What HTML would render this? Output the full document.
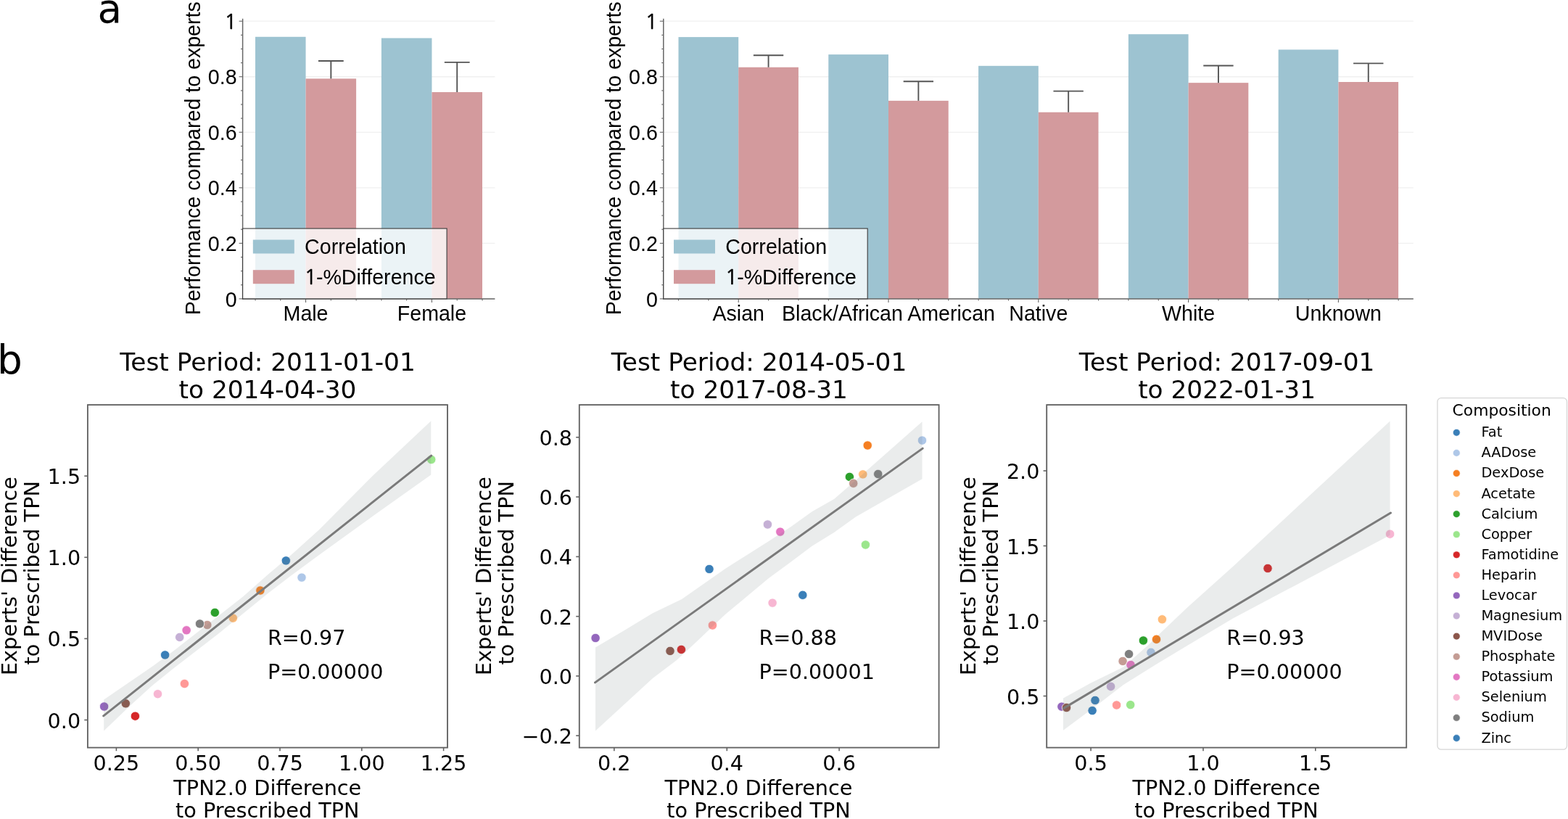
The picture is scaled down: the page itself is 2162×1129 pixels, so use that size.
<!DOCTYPE html>
<html><head><meta charset="utf-8"><title>Figure</title>
<style>
html,body{margin:0;padding:0;background:#ffffff;}
body{width:2162px;height:1129px;overflow:hidden;}
svg{display:block;}
text{fill:#000000;}
</style></head>
<body>
<svg width="2162" height="1129" viewBox="0 0 2162 1129">
<rect x="0" y="0" width="2162" height="1129" fill="#ffffff"/>
<line x1="334.6" y1="411.9" x2="682.4" y2="411.9" stroke="#f0f0f0" stroke-width="1.3" />
<line x1="334.6" y1="335.36" x2="682.4" y2="335.36" stroke="#f0f0f0" stroke-width="1.3" />
<line x1="334.6" y1="258.82" x2="682.4" y2="258.82" stroke="#f0f0f0" stroke-width="1.3" />
<line x1="334.6" y1="182.28" x2="682.4" y2="182.28" stroke="#f0f0f0" stroke-width="1.3" />
<line x1="334.6" y1="105.74" x2="682.4" y2="105.74" stroke="#f0f0f0" stroke-width="1.3" />
<line x1="334.6" y1="29.2" x2="682.4" y2="29.2" stroke="#f0f0f0" stroke-width="1.3" />
<rect x="351.99" y="50.78" width="69.56" height="361.12" fill="#9dc3d1" />
<rect x="421.55" y="108.42" width="69.56" height="303.48" fill="#d39a9d" />
<rect x="525.89" y="52.54" width="69.56" height="359.36" fill="#9dc3d1" />
<rect x="595.45" y="127.02" width="69.56" height="284.88" fill="#d39a9d" />
<line x1="456.33" y1="108.42" x2="456.33" y2="83.93" stroke="#555555" stroke-width="1.9" />
<line x1="438.94" y1="83.93" x2="473.72" y2="83.93" stroke="#555555" stroke-width="1.9" />
<line x1="630.23" y1="127.02" x2="630.23" y2="85.84" stroke="#555555" stroke-width="1.9" />
<line x1="612.84" y1="85.84" x2="647.62" y2="85.84" stroke="#555555" stroke-width="1.9" />
<line x1="334.6" y1="412.6" x2="334.6" y2="25.7" stroke="#666666" stroke-width="1.5" />
<line x1="333.9" y1="411.9" x2="682.4" y2="411.9" stroke="#666666" stroke-width="1.5" />
<line x1="329.6" y1="411.9" x2="334.6" y2="411.9" stroke="#666666" stroke-width="1.1" />
<line x1="332" y1="392.76" x2="334.6" y2="392.76" stroke="#666666" stroke-width="1.1" />
<line x1="332" y1="373.63" x2="334.6" y2="373.63" stroke="#666666" stroke-width="1.1" />
<line x1="332" y1="354.49" x2="334.6" y2="354.49" stroke="#666666" stroke-width="1.1" />
<line x1="329.6" y1="335.36" x2="334.6" y2="335.36" stroke="#666666" stroke-width="1.1" />
<line x1="332" y1="316.22" x2="334.6" y2="316.22" stroke="#666666" stroke-width="1.1" />
<line x1="332" y1="297.09" x2="334.6" y2="297.09" stroke="#666666" stroke-width="1.1" />
<line x1="332" y1="277.95" x2="334.6" y2="277.95" stroke="#666666" stroke-width="1.1" />
<line x1="329.6" y1="258.82" x2="334.6" y2="258.82" stroke="#666666" stroke-width="1.1" />
<line x1="332" y1="239.68" x2="334.6" y2="239.68" stroke="#666666" stroke-width="1.1" />
<line x1="332" y1="220.55" x2="334.6" y2="220.55" stroke="#666666" stroke-width="1.1" />
<line x1="332" y1="201.41" x2="334.6" y2="201.41" stroke="#666666" stroke-width="1.1" />
<line x1="329.6" y1="182.28" x2="334.6" y2="182.28" stroke="#666666" stroke-width="1.1" />
<line x1="332" y1="163.14" x2="334.6" y2="163.14" stroke="#666666" stroke-width="1.1" />
<line x1="332" y1="144.01" x2="334.6" y2="144.01" stroke="#666666" stroke-width="1.1" />
<line x1="332" y1="124.88" x2="334.6" y2="124.88" stroke="#666666" stroke-width="1.1" />
<line x1="329.6" y1="105.74" x2="334.6" y2="105.74" stroke="#666666" stroke-width="1.1" />
<line x1="332" y1="86.6" x2="334.6" y2="86.6" stroke="#666666" stroke-width="1.1" />
<line x1="332" y1="67.47" x2="334.6" y2="67.47" stroke="#666666" stroke-width="1.1" />
<line x1="332" y1="48.33" x2="334.6" y2="48.33" stroke="#666666" stroke-width="1.1" />
<line x1="329.6" y1="29.2" x2="334.6" y2="29.2" stroke="#666666" stroke-width="1.1" />
<text transform="translate(326.6,422.5) scale(1,1.03)" font-size="28.6" font-family='"Liberation Sans", Arial, sans-serif' text-anchor="end" >0</text>
<text transform="translate(326.6,345.96) scale(1,1.03)" font-size="28.6" font-family='"Liberation Sans", Arial, sans-serif' text-anchor="end" >0.2</text>
<text transform="translate(326.6,269.42) scale(1,1.03)" font-size="28.6" font-family='"Liberation Sans", Arial, sans-serif' text-anchor="end" >0.4</text>
<text transform="translate(326.6,192.88) scale(1,1.03)" font-size="28.6" font-family='"Liberation Sans", Arial, sans-serif' text-anchor="end" >0.6</text>
<text transform="translate(326.6,116.34) scale(1,1.03)" font-size="28.6" font-family='"Liberation Sans", Arial, sans-serif' text-anchor="end" >0.8</text>
<text transform="translate(326.6,39.8) scale(1,1.03)" font-size="28.6" font-family='"Liberation Sans", Arial, sans-serif' text-anchor="end" ><tspan font-family='NanumGothic, "Liberation Sans", sans-serif' stroke="#000" stroke-width="0.6">1</tspan></text>
<line x1="351.99" y1="411.9" x2="351.99" y2="414.5" stroke="#666666" stroke-width="1.1" />
<line x1="386.77" y1="411.9" x2="386.77" y2="414.5" stroke="#666666" stroke-width="1.1" />
<line x1="421.55" y1="411.9" x2="421.55" y2="416.9" stroke="#666666" stroke-width="1.1" />
<line x1="456.33" y1="411.9" x2="456.33" y2="414.5" stroke="#666666" stroke-width="1.1" />
<line x1="491.11" y1="411.9" x2="491.11" y2="414.5" stroke="#666666" stroke-width="1.1" />
<line x1="525.89" y1="411.9" x2="525.89" y2="414.5" stroke="#666666" stroke-width="1.1" />
<line x1="560.67" y1="411.9" x2="560.67" y2="414.5" stroke="#666666" stroke-width="1.1" />
<line x1="595.45" y1="411.9" x2="595.45" y2="416.9" stroke="#666666" stroke-width="1.1" />
<line x1="630.23" y1="411.9" x2="630.23" y2="414.5" stroke="#666666" stroke-width="1.1" />
<line x1="665.01" y1="411.9" x2="665.01" y2="414.5" stroke="#666666" stroke-width="1.1" />
<text transform="translate(421.55,441.5) scale(1,1.03)" font-size="28.6" font-family='"Liberation Sans", Arial, sans-serif' text-anchor="middle" >Male</text>
<text transform="translate(595.45,441.5) scale(1,1.03)" font-size="28.6" font-family='"Liberation Sans", Arial, sans-serif' text-anchor="middle" >Female</text>
<text transform="translate(276.2,218.3) rotate(-90) scale(1,1.03)" font-size="28.6" font-family='"Liberation Sans", Arial, sans-serif' text-anchor="middle">Performance compared to experts</text>
<rect x="334.6" y="315" width="281.5" height="96.9" fill="#ffffff" fill-opacity="0.8" stroke="#3a3a3a" stroke-width="1.1"/>
<rect x="348.8" y="330.5" width="57" height="19" fill="#9dc3d1" />
<rect x="348.8" y="372.2" width="57" height="19" fill="#d39a9d" />
<text transform="translate(420.1,349.9) scale(1,1.03)" font-size="28.6" font-family='"Liberation Sans", Arial, sans-serif' text-anchor="start" >Correlation</text>
<text transform="translate(419.6,391.8) scale(1,1.03)" font-size="28.6" font-family='"Liberation Sans", Arial, sans-serif' text-anchor="start" ><tspan font-family='NanumGothic, "Liberation Sans", sans-serif' stroke="#000" stroke-width="0.6">1</tspan><tspan dx="-1.0">-%Difference</tspan></text>
<line x1="914.8" y1="411.9" x2="1948.8" y2="411.9" stroke="#f0f0f0" stroke-width="1.3" />
<line x1="914.8" y1="335.36" x2="1948.8" y2="335.36" stroke="#f0f0f0" stroke-width="1.3" />
<line x1="914.8" y1="258.82" x2="1948.8" y2="258.82" stroke="#f0f0f0" stroke-width="1.3" />
<line x1="914.8" y1="182.28" x2="1948.8" y2="182.28" stroke="#f0f0f0" stroke-width="1.3" />
<line x1="914.8" y1="105.74" x2="1948.8" y2="105.74" stroke="#f0f0f0" stroke-width="1.3" />
<line x1="914.8" y1="29.2" x2="1948.8" y2="29.2" stroke="#f0f0f0" stroke-width="1.3" />
<rect x="935.48" y="51.09" width="82.72" height="360.81" fill="#9dc3d1" />
<rect x="1018.2" y="92.73" width="82.72" height="319.17" fill="#d39a9d" />
<rect x="1142.28" y="75.12" width="82.72" height="336.78" fill="#9dc3d1" />
<rect x="1225" y="138.88" width="82.72" height="273.02" fill="#d39a9d" />
<rect x="1349.08" y="90.81" width="82.72" height="321.09" fill="#9dc3d1" />
<rect x="1431.8" y="154.73" width="82.72" height="257.17" fill="#d39a9d" />
<rect x="1555.88" y="47.19" width="82.72" height="364.71" fill="#9dc3d1" />
<rect x="1638.6" y="114.16" width="82.72" height="297.74" fill="#d39a9d" />
<rect x="1762.68" y="68.43" width="82.72" height="343.47" fill="#9dc3d1" />
<rect x="1845.4" y="113.01" width="82.72" height="298.89" fill="#d39a9d" />
<line x1="1059.56" y1="92.73" x2="1059.56" y2="76.27" stroke="#555555" stroke-width="1.9" />
<line x1="1038.88" y1="76.27" x2="1080.24" y2="76.27" stroke="#555555" stroke-width="1.9" />
<line x1="1266.36" y1="138.88" x2="1266.36" y2="112.25" stroke="#555555" stroke-width="1.9" />
<line x1="1245.68" y1="112.25" x2="1287.04" y2="112.25" stroke="#555555" stroke-width="1.9" />
<line x1="1473.16" y1="154.73" x2="1473.16" y2="125.64" stroke="#555555" stroke-width="1.9" />
<line x1="1452.48" y1="125.64" x2="1493.84" y2="125.64" stroke="#555555" stroke-width="1.9" />
<line x1="1679.96" y1="114.16" x2="1679.96" y2="90.43" stroke="#555555" stroke-width="1.9" />
<line x1="1659.28" y1="90.43" x2="1700.64" y2="90.43" stroke="#555555" stroke-width="1.9" />
<line x1="1886.76" y1="113.01" x2="1886.76" y2="87.37" stroke="#555555" stroke-width="1.9" />
<line x1="1866.08" y1="87.37" x2="1907.44" y2="87.37" stroke="#555555" stroke-width="1.9" />
<line x1="914.8" y1="412.6" x2="914.8" y2="25.7" stroke="#666666" stroke-width="1.5" />
<line x1="914.1" y1="411.9" x2="1948.8" y2="411.9" stroke="#666666" stroke-width="1.5" />
<line x1="909.8" y1="411.9" x2="914.8" y2="411.9" stroke="#666666" stroke-width="1.1" />
<line x1="912.2" y1="392.76" x2="914.8" y2="392.76" stroke="#666666" stroke-width="1.1" />
<line x1="912.2" y1="373.63" x2="914.8" y2="373.63" stroke="#666666" stroke-width="1.1" />
<line x1="912.2" y1="354.49" x2="914.8" y2="354.49" stroke="#666666" stroke-width="1.1" />
<line x1="909.8" y1="335.36" x2="914.8" y2="335.36" stroke="#666666" stroke-width="1.1" />
<line x1="912.2" y1="316.22" x2="914.8" y2="316.22" stroke="#666666" stroke-width="1.1" />
<line x1="912.2" y1="297.09" x2="914.8" y2="297.09" stroke="#666666" stroke-width="1.1" />
<line x1="912.2" y1="277.95" x2="914.8" y2="277.95" stroke="#666666" stroke-width="1.1" />
<line x1="909.8" y1="258.82" x2="914.8" y2="258.82" stroke="#666666" stroke-width="1.1" />
<line x1="912.2" y1="239.68" x2="914.8" y2="239.68" stroke="#666666" stroke-width="1.1" />
<line x1="912.2" y1="220.55" x2="914.8" y2="220.55" stroke="#666666" stroke-width="1.1" />
<line x1="912.2" y1="201.41" x2="914.8" y2="201.41" stroke="#666666" stroke-width="1.1" />
<line x1="909.8" y1="182.28" x2="914.8" y2="182.28" stroke="#666666" stroke-width="1.1" />
<line x1="912.2" y1="163.14" x2="914.8" y2="163.14" stroke="#666666" stroke-width="1.1" />
<line x1="912.2" y1="144.01" x2="914.8" y2="144.01" stroke="#666666" stroke-width="1.1" />
<line x1="912.2" y1="124.88" x2="914.8" y2="124.88" stroke="#666666" stroke-width="1.1" />
<line x1="909.8" y1="105.74" x2="914.8" y2="105.74" stroke="#666666" stroke-width="1.1" />
<line x1="912.2" y1="86.6" x2="914.8" y2="86.6" stroke="#666666" stroke-width="1.1" />
<line x1="912.2" y1="67.47" x2="914.8" y2="67.47" stroke="#666666" stroke-width="1.1" />
<line x1="912.2" y1="48.33" x2="914.8" y2="48.33" stroke="#666666" stroke-width="1.1" />
<line x1="909.8" y1="29.2" x2="914.8" y2="29.2" stroke="#666666" stroke-width="1.1" />
<text transform="translate(906.8,422.5) scale(1,1.03)" font-size="28.6" font-family='"Liberation Sans", Arial, sans-serif' text-anchor="end" >0</text>
<text transform="translate(906.8,345.96) scale(1,1.03)" font-size="28.6" font-family='"Liberation Sans", Arial, sans-serif' text-anchor="end" >0.2</text>
<text transform="translate(906.8,269.42) scale(1,1.03)" font-size="28.6" font-family='"Liberation Sans", Arial, sans-serif' text-anchor="end" >0.4</text>
<text transform="translate(906.8,192.88) scale(1,1.03)" font-size="28.6" font-family='"Liberation Sans", Arial, sans-serif' text-anchor="end" >0.6</text>
<text transform="translate(906.8,116.34) scale(1,1.03)" font-size="28.6" font-family='"Liberation Sans", Arial, sans-serif' text-anchor="end" >0.8</text>
<text transform="translate(906.8,39.8) scale(1,1.03)" font-size="28.6" font-family='"Liberation Sans", Arial, sans-serif' text-anchor="end" ><tspan font-family='NanumGothic, "Liberation Sans", sans-serif' stroke="#000" stroke-width="0.6">1</tspan></text>
<line x1="935.48" y1="411.9" x2="935.48" y2="414.5" stroke="#666666" stroke-width="1.1" />
<line x1="976.84" y1="411.9" x2="976.84" y2="414.5" stroke="#666666" stroke-width="1.1" />
<line x1="1018.2" y1="411.9" x2="1018.2" y2="416.9" stroke="#666666" stroke-width="1.1" />
<line x1="1059.56" y1="411.9" x2="1059.56" y2="414.5" stroke="#666666" stroke-width="1.1" />
<line x1="1100.92" y1="411.9" x2="1100.92" y2="414.5" stroke="#666666" stroke-width="1.1" />
<line x1="1142.28" y1="411.9" x2="1142.28" y2="414.5" stroke="#666666" stroke-width="1.1" />
<line x1="1183.64" y1="411.9" x2="1183.64" y2="414.5" stroke="#666666" stroke-width="1.1" />
<line x1="1225" y1="411.9" x2="1225" y2="416.9" stroke="#666666" stroke-width="1.1" />
<line x1="1266.36" y1="411.9" x2="1266.36" y2="414.5" stroke="#666666" stroke-width="1.1" />
<line x1="1307.72" y1="411.9" x2="1307.72" y2="414.5" stroke="#666666" stroke-width="1.1" />
<line x1="1349.08" y1="411.9" x2="1349.08" y2="414.5" stroke="#666666" stroke-width="1.1" />
<line x1="1390.44" y1="411.9" x2="1390.44" y2="414.5" stroke="#666666" stroke-width="1.1" />
<line x1="1431.8" y1="411.9" x2="1431.8" y2="416.9" stroke="#666666" stroke-width="1.1" />
<line x1="1473.16" y1="411.9" x2="1473.16" y2="414.5" stroke="#666666" stroke-width="1.1" />
<line x1="1514.52" y1="411.9" x2="1514.52" y2="414.5" stroke="#666666" stroke-width="1.1" />
<line x1="1555.88" y1="411.9" x2="1555.88" y2="414.5" stroke="#666666" stroke-width="1.1" />
<line x1="1597.24" y1="411.9" x2="1597.24" y2="414.5" stroke="#666666" stroke-width="1.1" />
<line x1="1638.6" y1="411.9" x2="1638.6" y2="416.9" stroke="#666666" stroke-width="1.1" />
<line x1="1679.96" y1="411.9" x2="1679.96" y2="414.5" stroke="#666666" stroke-width="1.1" />
<line x1="1721.32" y1="411.9" x2="1721.32" y2="414.5" stroke="#666666" stroke-width="1.1" />
<line x1="1762.68" y1="411.9" x2="1762.68" y2="414.5" stroke="#666666" stroke-width="1.1" />
<line x1="1804.04" y1="411.9" x2="1804.04" y2="414.5" stroke="#666666" stroke-width="1.1" />
<line x1="1845.4" y1="411.9" x2="1845.4" y2="416.9" stroke="#666666" stroke-width="1.1" />
<line x1="1886.76" y1="411.9" x2="1886.76" y2="414.5" stroke="#666666" stroke-width="1.1" />
<line x1="1928.12" y1="411.9" x2="1928.12" y2="414.5" stroke="#666666" stroke-width="1.1" />
<text transform="translate(1018.2,441.5) scale(1,1.03)" font-size="28.6" font-family='"Liberation Sans", Arial, sans-serif' text-anchor="middle" >Asian</text>
<text transform="translate(1225,441.5) scale(1,1.03)" font-size="28.6" font-family='"Liberation Sans", Arial, sans-serif' text-anchor="middle" >Black/African American</text>
<text transform="translate(1431.8,441.5) scale(1,1.03)" font-size="28.6" font-family='"Liberation Sans", Arial, sans-serif' text-anchor="middle" >Native</text>
<text transform="translate(1638.6,441.5) scale(1,1.03)" font-size="28.6" font-family='"Liberation Sans", Arial, sans-serif' text-anchor="middle" >White</text>
<text transform="translate(1845.4,441.5) scale(1,1.03)" font-size="28.6" font-family='"Liberation Sans", Arial, sans-serif' text-anchor="middle" >Unknown</text>
<text transform="translate(856.2,218.3) rotate(-90) scale(1,1.03)" font-size="28.6" font-family='"Liberation Sans", Arial, sans-serif' text-anchor="middle">Performance compared to experts</text>
<rect x="914.8" y="315" width="281.4" height="96.9" fill="#ffffff" fill-opacity="0.8" stroke="#3a3a3a" stroke-width="1.1"/>
<rect x="929" y="330.5" width="57" height="19" fill="#9dc3d1" />
<rect x="929" y="372.2" width="57" height="19" fill="#d39a9d" />
<text transform="translate(1000.3,349.9) scale(1,1.03)" font-size="28.6" font-family='"Liberation Sans", Arial, sans-serif' text-anchor="start" >Correlation</text>
<text transform="translate(999.8,391.8) scale(1,1.03)" font-size="28.6" font-family='"Liberation Sans", Arial, sans-serif' text-anchor="start" ><tspan font-family='NanumGothic, "Liberation Sans", sans-serif' stroke="#000" stroke-width="0.6">1</tspan><tspan dx="-1.0">-%Difference</tspan></text>
<text x="134.4" y="30.6" font-size="54.8" font-family='"DejaVu Sans", "Liberation Sans", sans-serif' text-anchor="start" >a</text>
<text x="-3.9" y="514.5" font-size="54.8" font-family='"DejaVu Sans", "Liberation Sans", sans-serif' text-anchor="start" >b</text>
<circle cx="394.3" cy="772.9" r="6.2" fill="#3a7fb8" stroke="#ffffff" stroke-width="0.8"/>
<circle cx="416" cy="796.1" r="6.2" fill="#aec7e8" stroke="#ffffff" stroke-width="0.8"/>
<circle cx="358.9" cy="814" r="6.2" fill="#f57f22" stroke="#ffffff" stroke-width="0.8"/>
<circle cx="321.3" cy="852.1" r="6.2" fill="#ffbb78" stroke="#ffffff" stroke-width="0.8"/>
<circle cx="296.3" cy="844.4" r="6.2" fill="#2ca02c" stroke="#ffffff" stroke-width="0.8"/>
<circle cx="594.7" cy="633.5" r="6.2" fill="#9be68c" stroke="#ffffff" stroke-width="0.8"/>
<circle cx="186.4" cy="987.2" r="6.2" fill="#d62728" stroke="#ffffff" stroke-width="0.8"/>
<circle cx="254.4" cy="942.5" r="6.2" fill="#ff9896" stroke="#ffffff" stroke-width="0.8"/>
<circle cx="143.6" cy="974" r="6.2" fill="#9467bd" stroke="#ffffff" stroke-width="0.8"/>
<circle cx="247.7" cy="878.4" r="6.2" fill="#c5b0d5" stroke="#ffffff" stroke-width="0.8"/>
<circle cx="173.3" cy="969.8" r="6.2" fill="#8c564b" stroke="#ffffff" stroke-width="0.8"/>
<circle cx="285.8" cy="861.5" r="6.2" fill="#c49c94" stroke="#ffffff" stroke-width="0.8"/>
<circle cx="257.1" cy="868.8" r="6.2" fill="#e377c2" stroke="#ffffff" stroke-width="0.8"/>
<circle cx="217.5" cy="956.7" r="6.2" fill="#f7b6d2" stroke="#ffffff" stroke-width="0.8"/>
<circle cx="275.5" cy="859.9" r="6.2" fill="#7f7f7f" stroke="#ffffff" stroke-width="0.8"/>
<circle cx="227.6" cy="902.9" r="6.2" fill="#3a7fb8" stroke="#ffffff" stroke-width="0.8"/>
<polygon points="143.2,964.4 180,939.2 210,918.8 240,896.7 300,850 335,822.5 370,791.4 400,766.3 440,730.3 514,655.8 594.3,580.2 594.3,654.6 514,711.6 440,765 400,794.5 370,817.6 300,874.6 240,920.7 210,944.9 180,972.2 143.2,1007.6" fill="rgb(116,129,128)" fill-opacity="0.15"/>
<line x1="142.7" y1="986.8" x2="594.7" y2="628.1" stroke="#7a7a7a" stroke-width="3" stroke-linecap="round"/>
<rect x="120.9" y="558.1" width="496.1" height="472.5" fill="none" stroke="#626262" stroke-width="1.85"/>
<line x1="160.4" y1="1030.6" x2="160.4" y2="1035.2" stroke="#626262" stroke-width="1.6" />
<text x="160.4" y="1062" font-size="28.6" font-family='"DejaVu Sans", "Liberation Sans", sans-serif' text-anchor="middle" >0.25</text>
<line x1="273.2" y1="1030.6" x2="273.2" y2="1035.2" stroke="#626262" stroke-width="1.6" />
<text x="273.2" y="1062" font-size="28.6" font-family='"DejaVu Sans", "Liberation Sans", sans-serif' text-anchor="middle" >0.50</text>
<line x1="386" y1="1030.6" x2="386" y2="1035.2" stroke="#626262" stroke-width="1.6" />
<text x="386" y="1062" font-size="28.6" font-family='"DejaVu Sans", "Liberation Sans", sans-serif' text-anchor="middle" >0.75</text>
<line x1="498.8" y1="1030.6" x2="498.8" y2="1035.2" stroke="#626262" stroke-width="1.6" />
<text x="498.8" y="1062" font-size="28.6" font-family='"DejaVu Sans", "Liberation Sans", sans-serif' text-anchor="middle" >1.00</text>
<line x1="611.6" y1="1030.6" x2="611.6" y2="1035.2" stroke="#626262" stroke-width="1.6" />
<text x="611.6" y="1062" font-size="28.6" font-family='"DejaVu Sans", "Liberation Sans", sans-serif' text-anchor="middle" >1.25</text>
<line x1="116.3" y1="992.5" x2="120.9" y2="992.5" stroke="#626262" stroke-width="1.6" />
<text x="111.1" y="1003.5" font-size="28.6" font-family='"DejaVu Sans", "Liberation Sans", sans-serif' text-anchor="end" >0.0</text>
<line x1="116.3" y1="880.4" x2="120.9" y2="880.4" stroke="#626262" stroke-width="1.6" />
<text x="111.1" y="891.4" font-size="28.6" font-family='"DejaVu Sans", "Liberation Sans", sans-serif' text-anchor="end" >0.5</text>
<line x1="116.3" y1="768.3" x2="120.9" y2="768.3" stroke="#626262" stroke-width="1.6" />
<text x="111.1" y="779.3" font-size="28.6" font-family='"DejaVu Sans", "Liberation Sans", sans-serif' text-anchor="end" >1.0</text>
<line x1="116.3" y1="656.2" x2="120.9" y2="656.2" stroke="#626262" stroke-width="1.6" />
<text x="111.1" y="667.2" font-size="28.6" font-family='"DejaVu Sans", "Liberation Sans", sans-serif' text-anchor="end" >1.5</text>
<text x="369" y="510.8" font-size="34.35" font-family='"DejaVu Sans", "Liberation Sans", sans-serif' text-anchor="middle" >Test Period: 2011-01-01</text>
<text x="369" y="548.7" font-size="34.35" font-family='"DejaVu Sans", "Liberation Sans", sans-serif' text-anchor="middle" >to 2014-04-30</text>
<text x="368.8" y="1095.6" font-size="28.7" font-family='"DejaVu Sans", "Liberation Sans", sans-serif' text-anchor="middle" >TPN2.0 Difference</text>
<text x="368.8" y="1126.8" font-size="28.7" font-family='"DejaVu Sans", "Liberation Sans", sans-serif' text-anchor="middle" >to Prescribed TPN</text>
<text transform="translate(22.5,794.15) rotate(-90)" font-size="28.7" font-family='"DejaVu Sans", "Liberation Sans", sans-serif' text-anchor="middle">Experts' Difference</text>
<text transform="translate(53.8,789.85) rotate(-90)" font-size="28.7" font-family='"DejaVu Sans", "Liberation Sans", sans-serif' text-anchor="middle">to Prescribed TPN</text>
<circle cx="978" cy="784.5" r="6.2" fill="#3a7fb8" stroke="#ffffff" stroke-width="0.8"/>
<circle cx="1271.5" cy="607.1" r="6.2" fill="#aec7e8" stroke="#ffffff" stroke-width="0.8"/>
<circle cx="1196.2" cy="614" r="6.2" fill="#f57f22" stroke="#ffffff" stroke-width="0.8"/>
<circle cx="1189.8" cy="653.9" r="6.2" fill="#ffbb78" stroke="#ffffff" stroke-width="0.8"/>
<circle cx="1171.4" cy="657.4" r="6.2" fill="#2ca02c" stroke="#ffffff" stroke-width="0.8"/>
<circle cx="1193.4" cy="751" r="6.2" fill="#9be68c" stroke="#ffffff" stroke-width="0.8"/>
<circle cx="939.4" cy="895.4" r="6.2" fill="#d62728" stroke="#ffffff" stroke-width="0.8"/>
<circle cx="982.4" cy="862" r="6.2" fill="#ff9896" stroke="#ffffff" stroke-width="0.8"/>
<circle cx="821.1" cy="879.5" r="6.2" fill="#9467bd" stroke="#ffffff" stroke-width="0.8"/>
<circle cx="1058.4" cy="723" r="6.2" fill="#c5b0d5" stroke="#ffffff" stroke-width="0.8"/>
<circle cx="924" cy="897.4" r="6.2" fill="#8c564b" stroke="#ffffff" stroke-width="0.8"/>
<circle cx="1176.7" cy="666.3" r="6.2" fill="#c49c94" stroke="#ffffff" stroke-width="0.8"/>
<circle cx="1075.8" cy="733.1" r="6.2" fill="#e377c2" stroke="#ffffff" stroke-width="0.8"/>
<circle cx="1065.1" cy="831.1" r="6.2" fill="#f7b6d2" stroke="#ffffff" stroke-width="0.8"/>
<circle cx="1210.7" cy="653.5" r="6.2" fill="#7f7f7f" stroke="#ffffff" stroke-width="0.8"/>
<circle cx="1106.8" cy="820.3" r="6.2" fill="#3a7fb8" stroke="#ffffff" stroke-width="0.8"/>
<polygon points="821,892.6 860,869.5 900,845.3 940,826 970,805 1000,784 1030,765 1060,746 1090,726.5 1120,705 1150,688 1180,662 1271.5,581.3 1271.5,660.3 1180,712.5 1150,734 1120,752.5 1090,775 1060,797 1030,822 1000,847 960,885 933,910 900,935 821,1007.4" fill="rgb(116,129,128)" fill-opacity="0.15"/>
<line x1="820.5" y1="940.9" x2="1272.2" y2="618.1" stroke="#7a7a7a" stroke-width="3" stroke-linecap="round"/>
<rect x="798.8" y="558.1" width="495.8" height="472.5" fill="none" stroke="#626262" stroke-width="1.85"/>
<line x1="846.8" y1="1030.6" x2="846.8" y2="1035.2" stroke="#626262" stroke-width="1.6" />
<text x="846.8" y="1062" font-size="28.6" font-family='"DejaVu Sans", "Liberation Sans", sans-serif' text-anchor="middle" >0.2</text>
<line x1="1002.3" y1="1030.6" x2="1002.3" y2="1035.2" stroke="#626262" stroke-width="1.6" />
<text x="1002.3" y="1062" font-size="28.6" font-family='"DejaVu Sans", "Liberation Sans", sans-serif' text-anchor="middle" >0.4</text>
<line x1="1157.1" y1="1030.6" x2="1157.1" y2="1035.2" stroke="#626262" stroke-width="1.6" />
<text x="1157.1" y="1062" font-size="28.6" font-family='"DejaVu Sans", "Liberation Sans", sans-serif' text-anchor="middle" >0.6</text>
<line x1="794.2" y1="1014.1" x2="798.8" y2="1014.1" stroke="#626262" stroke-width="1.6" />
<text x="789" y="1025.1" font-size="28.6" font-family='"DejaVu Sans", "Liberation Sans", sans-serif' text-anchor="end" >−0.2</text>
<line x1="794.2" y1="931.9" x2="798.8" y2="931.9" stroke="#626262" stroke-width="1.6" />
<text x="789" y="942.9" font-size="28.6" font-family='"DejaVu Sans", "Liberation Sans", sans-serif' text-anchor="end" >0.0</text>
<line x1="794.2" y1="849.7" x2="798.8" y2="849.7" stroke="#626262" stroke-width="1.6" />
<text x="789" y="860.7" font-size="28.6" font-family='"DejaVu Sans", "Liberation Sans", sans-serif' text-anchor="end" >0.2</text>
<line x1="794.2" y1="767.4" x2="798.8" y2="767.4" stroke="#626262" stroke-width="1.6" />
<text x="789" y="778.4" font-size="28.6" font-family='"DejaVu Sans", "Liberation Sans", sans-serif' text-anchor="end" >0.4</text>
<line x1="794.2" y1="685" x2="798.8" y2="685" stroke="#626262" stroke-width="1.6" />
<text x="789" y="696" font-size="28.6" font-family='"DejaVu Sans", "Liberation Sans", sans-serif' text-anchor="end" >0.6</text>
<line x1="794.2" y1="602.8" x2="798.8" y2="602.8" stroke="#626262" stroke-width="1.6" />
<text x="789" y="613.8" font-size="28.6" font-family='"DejaVu Sans", "Liberation Sans", sans-serif' text-anchor="end" >0.8</text>
<text x="1046.5" y="510.8" font-size="34.35" font-family='"DejaVu Sans", "Liberation Sans", sans-serif' text-anchor="middle" >Test Period: 2014-05-01</text>
<text x="1046.5" y="548.7" font-size="34.35" font-family='"DejaVu Sans", "Liberation Sans", sans-serif' text-anchor="middle" >to 2017-08-31</text>
<text x="1046" y="1095.6" font-size="28.7" font-family='"DejaVu Sans", "Liberation Sans", sans-serif' text-anchor="middle" >TPN2.0 Difference</text>
<text x="1046" y="1126.8" font-size="28.7" font-family='"DejaVu Sans", "Liberation Sans", sans-serif' text-anchor="middle" >to Prescribed TPN</text>
<text transform="translate(676.5,794.15) rotate(-90)" font-size="28.7" font-family='"DejaVu Sans", "Liberation Sans", sans-serif' text-anchor="middle">Experts' Difference</text>
<text transform="translate(707.8,789.85) rotate(-90)" font-size="28.7" font-family='"DejaVu Sans", "Liberation Sans", sans-serif' text-anchor="middle">to Prescribed TPN</text>
<circle cx="1510" cy="965.4" r="6.2" fill="#3a7fb8" stroke="#ffffff" stroke-width="0.8"/>
<circle cx="1587" cy="899.3" r="6.2" fill="#aec7e8" stroke="#ffffff" stroke-width="0.8"/>
<circle cx="1594.5" cy="881.3" r="6.2" fill="#f57f22" stroke="#ffffff" stroke-width="0.8"/>
<circle cx="1602.4" cy="853.8" r="6.2" fill="#ffbb78" stroke="#ffffff" stroke-width="0.8"/>
<circle cx="1576.4" cy="883" r="6.2" fill="#2ca02c" stroke="#ffffff" stroke-width="0.8"/>
<circle cx="1558.7" cy="971.6" r="6.2" fill="#9be68c" stroke="#ffffff" stroke-width="0.8"/>
<circle cx="1748" cy="783.5" r="6.2" fill="#d62728" stroke="#ffffff" stroke-width="0.8"/>
<circle cx="1539.6" cy="972" r="6.2" fill="#ff9896" stroke="#ffffff" stroke-width="0.8"/>
<circle cx="1463.9" cy="974.1" r="6.2" fill="#9467bd" stroke="#ffffff" stroke-width="0.8"/>
<circle cx="1531.6" cy="946.3" r="6.2" fill="#c5b0d5" stroke="#ffffff" stroke-width="0.8"/>
<circle cx="1470.5" cy="975.5" r="6.2" fill="#8c564b" stroke="#ffffff" stroke-width="0.8"/>
<circle cx="1548.1" cy="911.4" r="6.2" fill="#c49c94" stroke="#ffffff" stroke-width="0.8"/>
<circle cx="1559" cy="916.5" r="6.2" fill="#e377c2" stroke="#ffffff" stroke-width="0.8"/>
<circle cx="1916.6" cy="736.2" r="6.2" fill="#f7b6d2" stroke="#ffffff" stroke-width="0.8"/>
<circle cx="1556.6" cy="901.6" r="6.2" fill="#7f7f7f" stroke="#ffffff" stroke-width="0.8"/>
<circle cx="1506.1" cy="979.6" r="6.2" fill="#3a7fb8" stroke="#ffffff" stroke-width="0.8"/>
<polygon points="1466,962.6 1504,941.5 1549,919.4 1584,888.4 1602,870.7 1637,837.5 1700,781 1916.6,580.5 1916.6,737.7 1700,852.5 1637,890 1593,916.5 1549,944 1504,978.5 1466,1006.8" fill="rgb(116,129,128)" fill-opacity="0.15"/>
<line x1="1466.6" y1="976.4" x2="1917.5" y2="707" stroke="#7a7a7a" stroke-width="3" stroke-linecap="round"/>
<rect x="1443.2" y="558.1" width="496" height="472.5" fill="none" stroke="#626262" stroke-width="1.85"/>
<line x1="1504.1" y1="1030.6" x2="1504.1" y2="1035.2" stroke="#626262" stroke-width="1.6" />
<text x="1504.1" y="1062" font-size="28.6" font-family='"DejaVu Sans", "Liberation Sans", sans-serif' text-anchor="middle" >0.5</text>
<line x1="1659" y1="1030.6" x2="1659" y2="1035.2" stroke="#626262" stroke-width="1.6" />
<text x="1659" y="1062" font-size="28.6" font-family='"DejaVu Sans", "Liberation Sans", sans-serif' text-anchor="middle" >1.0</text>
<line x1="1813.8" y1="1030.6" x2="1813.8" y2="1035.2" stroke="#626262" stroke-width="1.6" />
<text x="1813.8" y="1062" font-size="28.6" font-family='"DejaVu Sans", "Liberation Sans", sans-serif' text-anchor="middle" >1.5</text>
<line x1="1438.6" y1="959.5" x2="1443.2" y2="959.5" stroke="#626262" stroke-width="1.6" />
<text x="1433.4" y="970.5" font-size="28.6" font-family='"DejaVu Sans", "Liberation Sans", sans-serif' text-anchor="end" >0.5</text>
<line x1="1438.6" y1="856" x2="1443.2" y2="856" stroke="#626262" stroke-width="1.6" />
<text x="1433.4" y="867" font-size="28.6" font-family='"DejaVu Sans", "Liberation Sans", sans-serif' text-anchor="end" >1.0</text>
<line x1="1438.6" y1="752.5" x2="1443.2" y2="752.5" stroke="#626262" stroke-width="1.6" />
<text x="1433.4" y="763.5" font-size="28.6" font-family='"DejaVu Sans", "Liberation Sans", sans-serif' text-anchor="end" >1.5</text>
<line x1="1438.6" y1="649" x2="1443.2" y2="649" stroke="#626262" stroke-width="1.6" />
<text x="1433.4" y="660" font-size="28.6" font-family='"DejaVu Sans", "Liberation Sans", sans-serif' text-anchor="end" >2.0</text>
<text x="1691.6" y="510.8" font-size="34.35" font-family='"DejaVu Sans", "Liberation Sans", sans-serif' text-anchor="middle" >Test Period: 2017-09-01</text>
<text x="1691.6" y="548.7" font-size="34.35" font-family='"DejaVu Sans", "Liberation Sans", sans-serif' text-anchor="middle" >to 2022-01-31</text>
<text x="1691" y="1095.6" font-size="28.7" font-family='"DejaVu Sans", "Liberation Sans", sans-serif' text-anchor="middle" >TPN2.0 Difference</text>
<text x="1691" y="1126.8" font-size="28.7" font-family='"DejaVu Sans", "Liberation Sans", sans-serif' text-anchor="middle" >to Prescribed TPN</text>
<text transform="translate(1344.5,794.15) rotate(-90)" font-size="28.7" font-family='"DejaVu Sans", "Liberation Sans", sans-serif' text-anchor="middle">Experts' Difference</text>
<text transform="translate(1375.8,789.85) rotate(-90)" font-size="28.7" font-family='"DejaVu Sans", "Liberation Sans", sans-serif' text-anchor="middle">to Prescribed TPN</text>
<text x="368.9" y="888.6" font-size="28.6" font-family='"DejaVu Sans", "Liberation Sans", sans-serif' text-anchor="start" >R=0.97</text>
<text x="368.9" y="935.8" font-size="28.6" font-family='"DejaVu Sans", "Liberation Sans", sans-serif' text-anchor="start" >P=0.00000</text>
<text x="1046.5" y="888.6" font-size="28.6" font-family='"DejaVu Sans", "Liberation Sans", sans-serif' text-anchor="start" >R=0.88</text>
<text x="1046.5" y="935.8" font-size="28.6" font-family='"DejaVu Sans", "Liberation Sans", sans-serif' text-anchor="start" >P=0.00001</text>
<text x="1691.3" y="888.6" font-size="28.6" font-family='"DejaVu Sans", "Liberation Sans", sans-serif' text-anchor="start" >R=0.93</text>
<text x="1691.3" y="935.8" font-size="28.6" font-family='"DejaVu Sans", "Liberation Sans", sans-serif' text-anchor="start" >P=0.00000</text>
<rect x="1982" y="548.7" width="178.5" height="484.5" rx="5" ry="5" fill="#ffffff" fill-opacity="0.8" stroke="#d6d6d6" stroke-width="1.3"/>
<text x="2002.6" y="573" font-size="21.8" font-family='"DejaVu Sans", "Liberation Sans", sans-serif' text-anchor="start" >Composition</text>
<circle cx="2008.3" cy="596.3" r="4.9" fill="#3a7fb8" stroke="#ffffff" stroke-width="0.6"/>
<text x="2042.4" y="602.3" font-size="19.4" font-family='"DejaVu Sans", "Liberation Sans", sans-serif' text-anchor="start" >Fat</text>
<circle cx="2008.3" cy="624.38" r="4.9" fill="#aec7e8" stroke="#ffffff" stroke-width="0.6"/>
<text x="2042.4" y="630.38" font-size="19.4" font-family='"DejaVu Sans", "Liberation Sans", sans-serif' text-anchor="start" >AADose</text>
<circle cx="2008.3" cy="652.46" r="4.9" fill="#f57f22" stroke="#ffffff" stroke-width="0.6"/>
<text x="2042.4" y="658.46" font-size="19.4" font-family='"DejaVu Sans", "Liberation Sans", sans-serif' text-anchor="start" >DexDose</text>
<circle cx="2008.3" cy="680.54" r="4.9" fill="#ffbb78" stroke="#ffffff" stroke-width="0.6"/>
<text x="2042.4" y="686.54" font-size="19.4" font-family='"DejaVu Sans", "Liberation Sans", sans-serif' text-anchor="start" >Acetate</text>
<circle cx="2008.3" cy="708.62" r="4.9" fill="#2ca02c" stroke="#ffffff" stroke-width="0.6"/>
<text x="2042.4" y="714.62" font-size="19.4" font-family='"DejaVu Sans", "Liberation Sans", sans-serif' text-anchor="start" >Calcium</text>
<circle cx="2008.3" cy="736.7" r="4.9" fill="#9be68c" stroke="#ffffff" stroke-width="0.6"/>
<text x="2042.4" y="742.7" font-size="19.4" font-family='"DejaVu Sans", "Liberation Sans", sans-serif' text-anchor="start" >Copper</text>
<circle cx="2008.3" cy="764.78" r="4.9" fill="#d62728" stroke="#ffffff" stroke-width="0.6"/>
<text x="2042.4" y="770.78" font-size="19.4" font-family='"DejaVu Sans", "Liberation Sans", sans-serif' text-anchor="start" >Famotidine</text>
<circle cx="2008.3" cy="792.86" r="4.9" fill="#ff9896" stroke="#ffffff" stroke-width="0.6"/>
<text x="2042.4" y="798.86" font-size="19.4" font-family='"DejaVu Sans", "Liberation Sans", sans-serif' text-anchor="start" >Heparin</text>
<circle cx="2008.3" cy="820.94" r="4.9" fill="#9467bd" stroke="#ffffff" stroke-width="0.6"/>
<text x="2042.4" y="826.94" font-size="19.4" font-family='"DejaVu Sans", "Liberation Sans", sans-serif' text-anchor="start" >Levocar</text>
<circle cx="2008.3" cy="849.02" r="4.9" fill="#c5b0d5" stroke="#ffffff" stroke-width="0.6"/>
<text x="2042.4" y="855.02" font-size="19.4" font-family='"DejaVu Sans", "Liberation Sans", sans-serif' text-anchor="start" >Magnesium</text>
<circle cx="2008.3" cy="877.1" r="4.9" fill="#8c564b" stroke="#ffffff" stroke-width="0.6"/>
<text x="2042.4" y="883.1" font-size="19.4" font-family='"DejaVu Sans", "Liberation Sans", sans-serif' text-anchor="start" >MVIDose</text>
<circle cx="2008.3" cy="905.18" r="4.9" fill="#c49c94" stroke="#ffffff" stroke-width="0.6"/>
<text x="2042.4" y="911.18" font-size="19.4" font-family='"DejaVu Sans", "Liberation Sans", sans-serif' text-anchor="start" >Phosphate</text>
<circle cx="2008.3" cy="933.26" r="4.9" fill="#e377c2" stroke="#ffffff" stroke-width="0.6"/>
<text x="2042.4" y="939.26" font-size="19.4" font-family='"DejaVu Sans", "Liberation Sans", sans-serif' text-anchor="start" >Potassium</text>
<circle cx="2008.3" cy="961.34" r="4.9" fill="#f7b6d2" stroke="#ffffff" stroke-width="0.6"/>
<text x="2042.4" y="967.34" font-size="19.4" font-family='"DejaVu Sans", "Liberation Sans", sans-serif' text-anchor="start" >Selenium</text>
<circle cx="2008.3" cy="989.42" r="4.9" fill="#7f7f7f" stroke="#ffffff" stroke-width="0.6"/>
<text x="2042.4" y="995.42" font-size="19.4" font-family='"DejaVu Sans", "Liberation Sans", sans-serif' text-anchor="start" >Sodium</text>
<circle cx="2008.3" cy="1017.5" r="4.9" fill="#3a7fb8" stroke="#ffffff" stroke-width="0.6"/>
<text x="2042.4" y="1023.5" font-size="19.4" font-family='"DejaVu Sans", "Liberation Sans", sans-serif' text-anchor="start" >Zinc</text>
</svg>
</body></html>
